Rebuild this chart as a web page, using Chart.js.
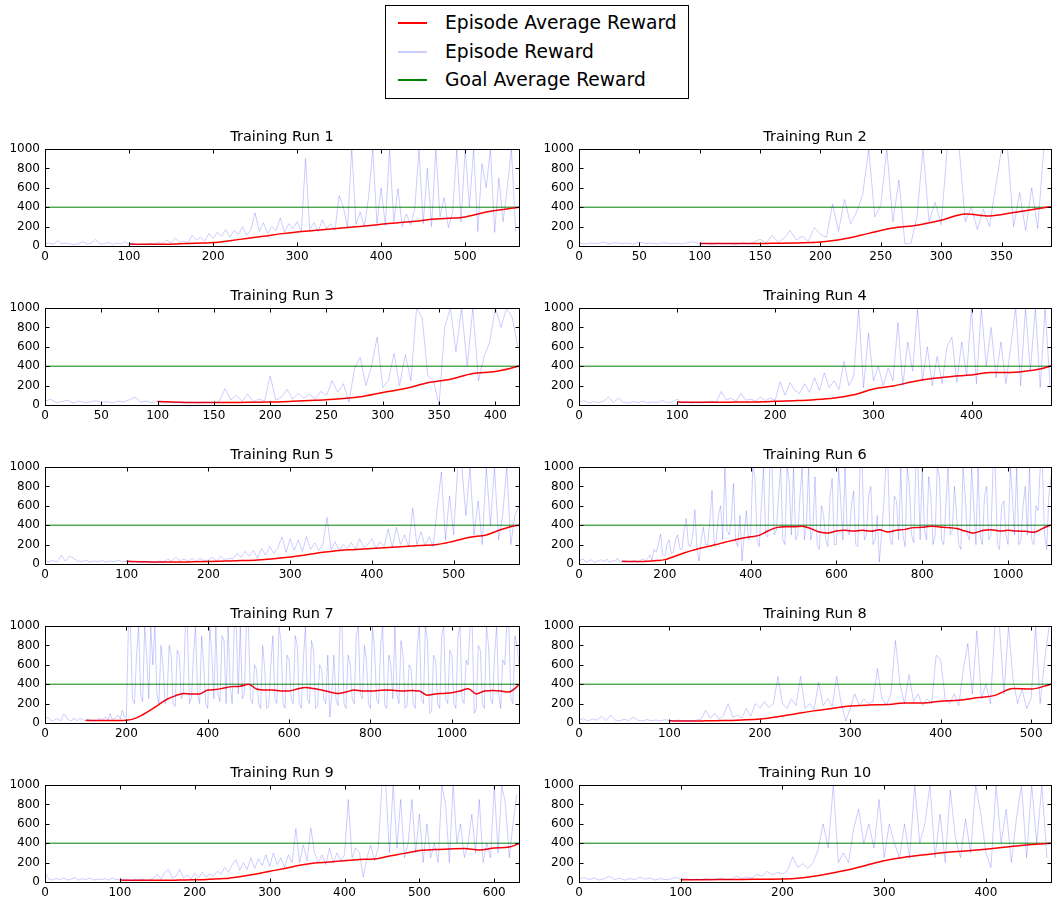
<!DOCTYPE html>
<html>
<head>
<meta charset="utf-8">
<script src="https://cdn.jsdelivr.net/npm/chart.js@4.4.0/dist/chart.umd.min.js"></script>
<style>
  html, body { margin: 0; padding: 0; background: #fff; overflow: hidden; }
  #page { position: relative; width: 1053px; height: 899px; font-family: 'DejaVu Sans', sans-serif; }
  #page canvas { position: absolute; }
  #legend { position: absolute; left: 385px; top: 5px; width: 302px; height: 92px; border: 1px solid #000; background: #fff; }
  #legend .row { position: absolute; left: 0; height: 22px; line-height: 22px; font-size: 18.7px; color: #000; white-space: nowrap; }
  #legend .swatch { position: absolute; left: 12px; top: 10px; width: 29px; height: 1.5px; }
  #legend .label { position: absolute; left: 59px; top: 0; }
</style>
</head>
<body>
<div id="page">
  <div id="legend">
    <div class="row" style="top:6px"><span class="swatch" style="background:#ff0000"></span><span class="label">Episode Average Reward</span></div>
    <div class="row" style="top:35px"><span class="swatch" style="background:rgba(0,0,255,0.2)"></span><span class="label">Episode Reward</span></div>
    <div class="row" style="top:63px"><span class="swatch" style="background:#008000"></span><span class="label">Goal Average Reward</span></div>
  </div>
</div>
<script>
// episodes per training run (x axis length)
const runMax = [564, 391, 421, 481, 580, 1100, 1165, 522, 633, 464];
const tickStep = [100, 50, 50, 100, 100, 200, 200, 100, 100, 100];
// episode reward is read every 5 episodes starting at 0
const rewardStep = 5;
// average reward is read every 20 episodes starting at episode 100
const avgStart = 100;
const avgStep = 20;
const goalReward = 400;
const runEndAvg = [400, 405, 405, 405, 405, 400, 400, 400, 397, 400];

const run1Reward = [20,30,15,55,25,30,20,15,25,45, 20,30,70,25,20,40,15,30,20,45,
  15,25,10,20,15,30,20,40,25,60, 30,80,40,50,30,110,60,90,50,130,
  80,140,100,170,90,160,120,200,110,170, 340,150,240,130,200,160,290,140,230,180,
  250,150,900,170,240,150,270,180,230,160, 520,400,190,1000,220,350,200,500,1000,230,
  600,210,1000,250,590,200,330,220,380,1000, 230,800,200,1000,300,500,190,350,1000,250,
  1000,400,1000,150,850,600,1000,140,700,250, 600,1000,150];
const run2Reward = [35,20,30,25,40,20,35,25,30,20, 40,25,30,20,35,25,30,20,35,45,
  20,25,15,30,20,25,15,35,20,40, 70,30,110,40,80,160,60,100,50,190,
  120,90,430,150,480,230,350,530,1000,300, 420,1000,250,680,20,30,300,1000,250,450,
  220,1000,1000,1000,250,400,170,380,200,600, 1000,1000,200,550,160,600,180,1000,1000];
const run3Reward = [40,60,25,35,50,20,40,25,30,45, 25,35,20,40,30,55,80,30,40,25,
  35,20,30,20,25,20,30,20,25,30, 20,40,170,50,100,40,110,35,60,40,
  300,50,80,160,60,120,70,110,60,140, 100,250,130,220,30,380,490,200,400,700,
  180,250,530,200,520,250,1000,900,300,250, 0,800,1000,550,1000,400,1000,250,500,650,
  1000,800,1000,900,600];
const run4Reward = [30,45,20,35,25,40,80,25,70,30, 20,35,25,40,20,30,25,45,20,30,
  60,20,30,20,25,20,30,40,30,140, 50,70,40,120,50,60,40,80,45,70,
  50,240,100,230,150,120,220,130,280,150, 330,180,250,160,450,200,300,1000,180,740,
  250,400,200,380,250,850,200,650,350,1000, 250,600,200,500,220,600,700,230,650,300,
  1000,220,1000,400,800,280,650,220,600,1000, 200,1000,350,1000,180,1000,200];
const run5Reward = [30,25,35,20,90,30,80,60,30,25, 40,20,30,25,35,20,30,25,40,20,
  30,15,25,20,15,25,20,15,30,20, 50,30,70,35,50,30,60,25,55,35,
  40,70,30,80,40,60,50,110,70,130, 80,140,60,160,90,180,110,170,280,120,
  260,140,250,130,280,150,220,140,200,480, 150,230,140,200,160,220,150,260,170,200,
  260,160,230,180,360,170,380,200,300,180, 580,200,330,190,280,180,580,950,250,700,
  300,1000,1000,500,1000,300,650,200,1000,400, 1000,250,500,1000,200,500,600];
const run6Reward = [30,45,50,25,25,40,40,20,20,35, 45,30,30,50,20,25,35,30,60,20,
  20,35,30,25,25,30,40,20,20,45, 50,35,60,90,40,150,120,200,310,100,
  80,200,250,110,120,250,300,160,150,350, 470,200,180,300,560,150,30,250,380,200,
  200,450,760,200,250,500,600,250,1000,350, 300,450,830,250,180,500,30,300,550,250,
  300,1000,900,250,180,600,1000,300,280,1000, 1000,300,350,700,1000,250,200,1000,850,300,
  1000,250,300,700,1000,250,400,1000,250,350, 900,200,150,600,500,250,180,700,880,200,
  200,1000,650,250,1000,350,300,600,750,200, 180,1000,1000,250,300,700,800,200,250,500,
  20,300,600,1000,1000,250,200,700,650,250, 1000,300,180,1000,800,300,220,1000,1000,250,
  1000,350,250,900,700,200,300,1000,900,250, 200,600,1000,300,350,800,500,200,150,1000,
  700,300,250,1000,600,200,1000,300,200,700, 800,250,300,1000,1000,200,150,600,650,300,
  200,1000,700,300,1000,200,250,600,800,300, 1000,250,200,600,550,1000,1000,300,150,700,
  900];
const run7Reward = [30,60,50,25,20,40,45,30,25,90, 80,40,30,20,50,35,25,50,40,30,
  20,40,35,25,30,20,40,50,30,45, 60,30,100,40,45,60,80,40,130,60,
  60,1000,1000,250,200,700,1000,300,220,1000, 700,250,1000,600,1000,300,200,800,600,200,
  250,800,700,200,170,750,700,250,300,1000, 1000,200,260,700,1000,300,200,900,600,200,
  150,1000,700,250,1000,300,220,900,850,200, 1000,400,200,1000,1000,300,1000,250,300,1000,
  1000,250,200,600,550,200,150,800,550,150, 180,600,900,250,200,1000,850,200,150,700,
  650,250,200,900,800,200,150,650,1000,250, 200,850,750,150,180,600,550,250,200,700,
  60,300,700,250,180,1000,1000,200,150,700, 600,250,200,900,1000,300,250,800,650,200,
  150,1000,750,250,200,800,1000,180,150,700, 600,250,1000,300,200,850,700,150,180,600,
  550,200,150,800,1000,250,200,1000,850,100, 120,700,650,200,150,900,1000,250,200,750,
  700,200,150,900,1000,250,200,650,600,1000, 1000,100,150,800,750,200,150,1000,800,250,
  200,700,1000,300,150,650,600,1000,1000,250, 200,900,800,600];
const run8Reward = [30,45,20,40,30,70,25,80,30,20, 40,25,60,30,20,35,25,30,20,35,
  25,20,30,20,25,20,30,40,130,50, 100,40,80,200,60,80,50,150,70,200,
  150,220,160,200,480,200,150,250,180,480, 150,200,140,420,180,250,170,480,200,20,
  150,300,180,250,200,220,560,250,180,300, 850,400,200,500,220,300,180,250,200,700,
  650,250,200,300,180,550,820,300,950,250, 400,200,1000,1000,300,1000,450,200,350,150,
  250,1000,200,650,1000];
const run9Reward = [100,30,20,35,25,40,20,30,45,20, 35,25,40,20,30,25,35,20,40,25,
  30,20,25,15,25,20,30,15,25,40, 80,30,100,130,40,60,130,40,70,30,
  90,40,100,50,80,60,110,80,150,100, 180,230,120,200,130,250,140,240,170,280,
  160,300,180,250,150,280,200,550,200,380, 220,560,300,200,280,180,350,200,300,220,
  280,850,250,350,300,50,250,380,220,350, 1000,1000,300,1000,350,850,250,400,850,300,
  700,200,600,250,400,200,1000,800,200,1000, 400,600,250,400,700,300,850,200,400,250,
  1000,300,1000,800,250,600,900];
const run10Reward = [30,45,25,40,20,35,60,25,40,20, 35,25,50,30,40,20,35,25,30,50,
  25,35,20,30,25,35,20,30,40,25, 30,60,35,50,40,80,60,110,70,100,
  80,120,260,150,190,140,200,330,600,350, 1000,200,300,200,550,750,400,600,350,850,
  250,600,400,250,600,250,1000,400,600,1000, 250,700,200,950,450,250,650,300,1000,700,
  300,150,1000,400,750,200,650,1000,250,1000, 400,1000,250];

const run1Avg = [20,18,18,22,28,35,55,78,100,125,145,160,175,190,205,225,240,255,275,285,300,340,370,395];
const run2Avg = [25,25,25,28,32,40,75,130,185,215,265,330,310,345,385];
const run3Avg = [35,28,25,25,28,30,38,48,62,85,130,170,230,265,325,345,400];
const run4Avg = [30,28,28,30,32,38,45,55,72,105,165,195,240,272,295,310,335,335,355,400];
const run5Avg = [28,22,20,20,22,25,30,35,42,55,72,95,120,140,150,160,170,180,190,200,235,275,300,360,400];
const run6Avg = [28,25,25,28,35,45,75,105,135,160,180,200,225,245,265,280,295,340,375,385,
  385,390,365,330,320,340,347,340,347,337,354,330,347,357,375,378,390,382,375,365,
  340,320,345,354,340,347,340,337,327,365,400];
const run7Avg = [28,25,25,25,25,28,45,85,135,190,245,280,305,300,300,340,345,360,375,380,
  400,350,340,340,330,330,350,365,355,340,320,305,320,340,330,330,335,340,335,330,
  335,330,285,300,305,312,330,354,300,330,335,330,320,375];
const run8Avg = [22,20,22,25,32,42,65,95,125,150,175,185,190,205,205,225,235,260,285,355,350,395];
const run9Avg = [20,18,18,18,20,22,28,35,55,80,110,140,172,195,205,220,232,238,268,295,325,335,340,345,330,350,360];
const run10Avg = [24,24,25,27,28,30,45,75,115,165,220,255,280,305,320,338,360,382,397];

const rewards = [run1Reward, run2Reward, run3Reward, run4Reward, run5Reward,
                 run6Reward, run7Reward, run8Reward, run9Reward, run10Reward];
const averages = [run1Avg, run2Avg, run3Avg, run4Avg, run5Avg,
                  run6Avg, run7Avg, run8Avg, run9Avg, run10Avg];

// black box round the plot with inward tick marks, matplotlib classic style
const frameTicks = {
    id: 'frameTicks',
    afterDraw: function (chart) {
        const ctx = chart.ctx;
        const a = chart.chartArea;
        const xs = chart.scales.x;
        const ys = chart.scales.y;
        const L = Math.round(a.left) + 0.5, R = Math.round(a.right) + 0.5;
        const T = Math.round(a.top) + 0.5, B = Math.round(a.bottom) + 0.5;
        ctx.save();
        ctx.strokeStyle = '#000';
        ctx.lineWidth = 1;
        ctx.beginPath();
        xs.ticks.forEach(t => {
            const px = Math.round(xs.getPixelForValue(t.value)) + 0.5;
            ctx.moveTo(px, B); ctx.lineTo(px, B - 4);
            ctx.moveTo(px, T); ctx.lineTo(px, T + 4);
        });
        ys.ticks.forEach(t => {
            const py = Math.round(ys.getPixelForValue(t.value)) + 0.5;
            ctx.moveTo(L, py); ctx.lineTo(L + 4, py);
            ctx.moveTo(R, py); ctx.lineTo(R - 4, py);
        });
        ctx.stroke();
        ctx.strokeRect(L, T, R - L, B - T);
        ctx.restore();
    }
};

window.onload = function () {
    const page = document.getElementById('page');
    const rowTops = [149, 308, 467, 626, 785];
    const plotH = 97;
    const titleH = 20;
    const axisH = 17;
    const yAxisW = 45;

    for (let i = 0; i < 10; i++) {
        const col = i % 2;
        const row = Math.floor(i / 2);
        const padRight = col === 0 ? 6 : 2;
        const plotW = col === 0 ? 474 : 472;

        const canvas = document.createElement('canvas');
        canvas.width = yAxisW + plotW + padRight;
        canvas.height = titleH + plotH + axisH;
        canvas.style.left = (col === 0 ? 0 : 534) + 'px';
        canvas.style.top = (rowTops[row] - titleH) + 'px';
        page.appendChild(canvas);

        const rewardPts = rewards[i].map((v, k) => ({ x: k * rewardStep, y: v }));
        const avgPts = averages[i].map((v, k) => ({ x: avgStart + k * avgStep, y: v }));
        avgPts.push({ x: runMax[i], y: runEndAvg[i] });
        const goalPts = [{ x: 0, y: goalReward }, { x: runMax[i], y: goalReward }];
        const step = tickStep[i];
        const maxX = runMax[i];
        const tickFont = { family: 'DejaVu Sans', size: 12 };

        new Chart(canvas.getContext('2d'), {
            type: 'line',
            data: {
                datasets: [
                    { label: 'Episode Reward', data: rewardPts, borderColor: 'rgba(0,0,255,0.2)',
                      borderWidth: 1, pointRadius: 0, borderJoinStyle: 'round', tension: 0 },
                    { label: 'Episode Average Reward', data: avgPts, borderColor: '#ff0000',
                      borderWidth: 1.5, pointRadius: 0, cubicInterpolationMode: 'monotone' },
                    { label: 'Goal Average Reward', data: goalPts, borderColor: '#008000',
                      borderWidth: 1, pointRadius: 0 }
                ]
            },
            options: {
                responsive: false,
                animation: false,
                events: [],
                layout: { padding: { left: 0, right: padRight, top: 0, bottom: 0 } },
                plugins: {
                    legend: { display: false },
                    tooltip: { enabled: false },
                    title: {
                        display: true,
                        text: 'Training Run ' + (i + 1),
                        color: '#000',
                        fullSize: false,
                        font: { family: 'DejaVu Sans', size: 14.5, weight: 'normal', lineHeight: '17px' },
                        padding: { top: 0, bottom: 3 }
                    }
                },
                scales: {
                    x: {
                        type: 'linear',
                        min: 0,
                        max: maxX,
                        grid: { display: false, drawTicks: false },
                        border: { display: false },
                        ticks: { color: '#000', font: tickFont, padding: 4, maxRotation: 0,
                                 autoSkip: false, callback: v => String(v) },
                        afterBuildTicks: s => {
                            const t = [];
                            for (let v = 0; v <= maxX; v += step) t.push({ value: v });
                            s.ticks = t;
                        },
                        afterFit: s => { s.height = axisH; }
                    },
                    y: {
                        min: 0,
                        max: 1000,
                        grid: { display: false, drawTicks: false },
                        border: { display: false },
                        ticks: { stepSize: 200, color: '#000', font: tickFont, padding: 5,
                                 callback: v => String(v) },
                        afterFit: s => { s.width = yAxisW; }
                    }
                }
            },
            plugins: [frameTicks]
        });
    }
};
</script>
</body>
</html>
